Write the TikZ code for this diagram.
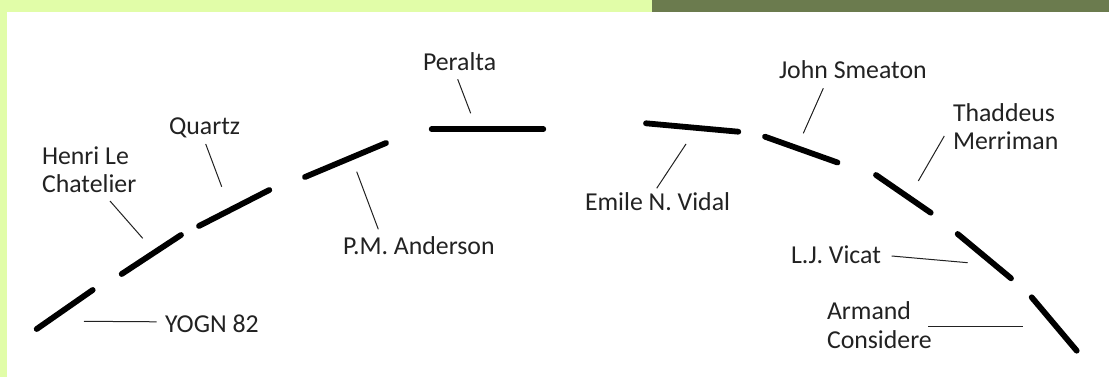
\documentclass[tikz,border=0pt]{standalone}
\usepackage{fontspec}
\setmainfont{Carlito}
\definecolor{lightband}{HTML}{E1FDA8}
\definecolor{darkband}{HTML}{6B7B4E}
\definecolor{inkgray}{HTML}{222222}
\begin{document}
\begin{tikzpicture}[x=1pt,y=-1pt,
  seg/.style={line width=5.8pt,line cap=round,black},
  leader/.style={line width=1pt,inkgray},
  lbl/.style={inner sep=0pt,outer sep=0pt,text=inkgray,font=\fontsize{25.8}{28.4}\selectfont,align=left}]
\useasboundingbox (0,0) rectangle (1109,377);
\fill[white] (0,0) rectangle (1109,377);
\fill[lightband] (0,0) rectangle (652,12);
\fill[lightband] (0,0) rectangle (7,377);
\fill[darkband] (652,0) rectangle (1109,12);
% arc of dashes
\draw[seg] (36.7,329) -- (92.7,290);
\draw[seg] (121.7,274) -- (181,235);
\draw[seg] (199,226) -- (269.3,190);
\draw[seg] (305,177) -- (386,143);
\draw[seg] (431.7,129.3) -- (543.3,129.3);
\draw[seg] (646,123.3) -- (738.3,131.7);
\draw[seg] (765,136.7) -- (837.5,162.5);
\draw[seg] (876,175) -- (930.7,212.7);
\draw[seg] (957.7,234) -- (1011,278.3);
\draw[seg] (1031.7,297.3) -- (1076.7,350.7);
% labels (for two-line labels the base anchor is the last line)
\node[lbl,anchor=base west] (yogn) at (165,332) {YOGN 82};
\node[lbl,anchor=base west] (henri) at (42,193) {Henri Le\\Chatelier};
\node[lbl,anchor=base west] (quartz) at (169,135) {Quartz};
\node[lbl,anchor=base west] (pma) at (343,254) {P.M. Anderson};
\node[lbl,anchor=base west] (peralta) at (423,71) {Peralta};
\node[lbl,anchor=base west] (emile) at (585,211) {Emile N. Vidal};
\node[lbl,anchor=base west] (john) at (779,79) {John Smeaton};
\node[lbl,anchor=base west] (thad) at (953,150) {Thaddeus\\Merriman};
\node[lbl,anchor=base east] (vicat) at (881,263) {L.J. Vicat};
\node[lbl,anchor=base west] (armand) at (827,348.3) {Armand\\Considere};
% leader end points
\coordinate (yognA) at (84,321.3);   \coordinate (yognB) at (156.7,321.8);
\coordinate (henriA) at (110,201);   \coordinate (henriB) at (142.7,238.3);
\coordinate (quartzA) at (205.7,144); \coordinate (quartzB) at (221.7,186.7);
\coordinate (pmaA) at (378.3,229.3); \coordinate (pmaB) at (356.7,171.7);
\coordinate (peraltaA) at (457.7,79.3); \coordinate (peraltaB) at (470.7,113.3);
\coordinate (emileA) at (656.7,188.3); \coordinate (emileB) at (686,144);
\coordinate (johnA) at (823.3,88.3); \coordinate (johnB) at (803.3,133.3);
\coordinate (thadA) at (944.3,136);  \coordinate (thadB) at (918.3,181);
\coordinate (vicatA) at (891.7,256); \coordinate (vicatB) at (967.7,262.7);
\coordinate (armandA) at (928.3,326.7); \coordinate (armandB) at (1022.7,326.7);
\draw[leader] (yognB) -- (yognA);
\draw[leader] (henriA) -- (henriB);
\draw[leader] (quartzA) -- (quartzB);
\draw[leader] (pmaA) -- (pmaB);
\draw[leader] (peraltaA) -- (peraltaB);
\draw[leader] (emileA) -- (emileB);
\draw[leader] (johnA) -- (johnB);
\draw[leader] (thadA) -- (thadB);
\draw[leader] (vicatA) -- (vicatB);
\draw[leader] (armandA) -- (armandB);
\end{tikzpicture}
\end{document}
